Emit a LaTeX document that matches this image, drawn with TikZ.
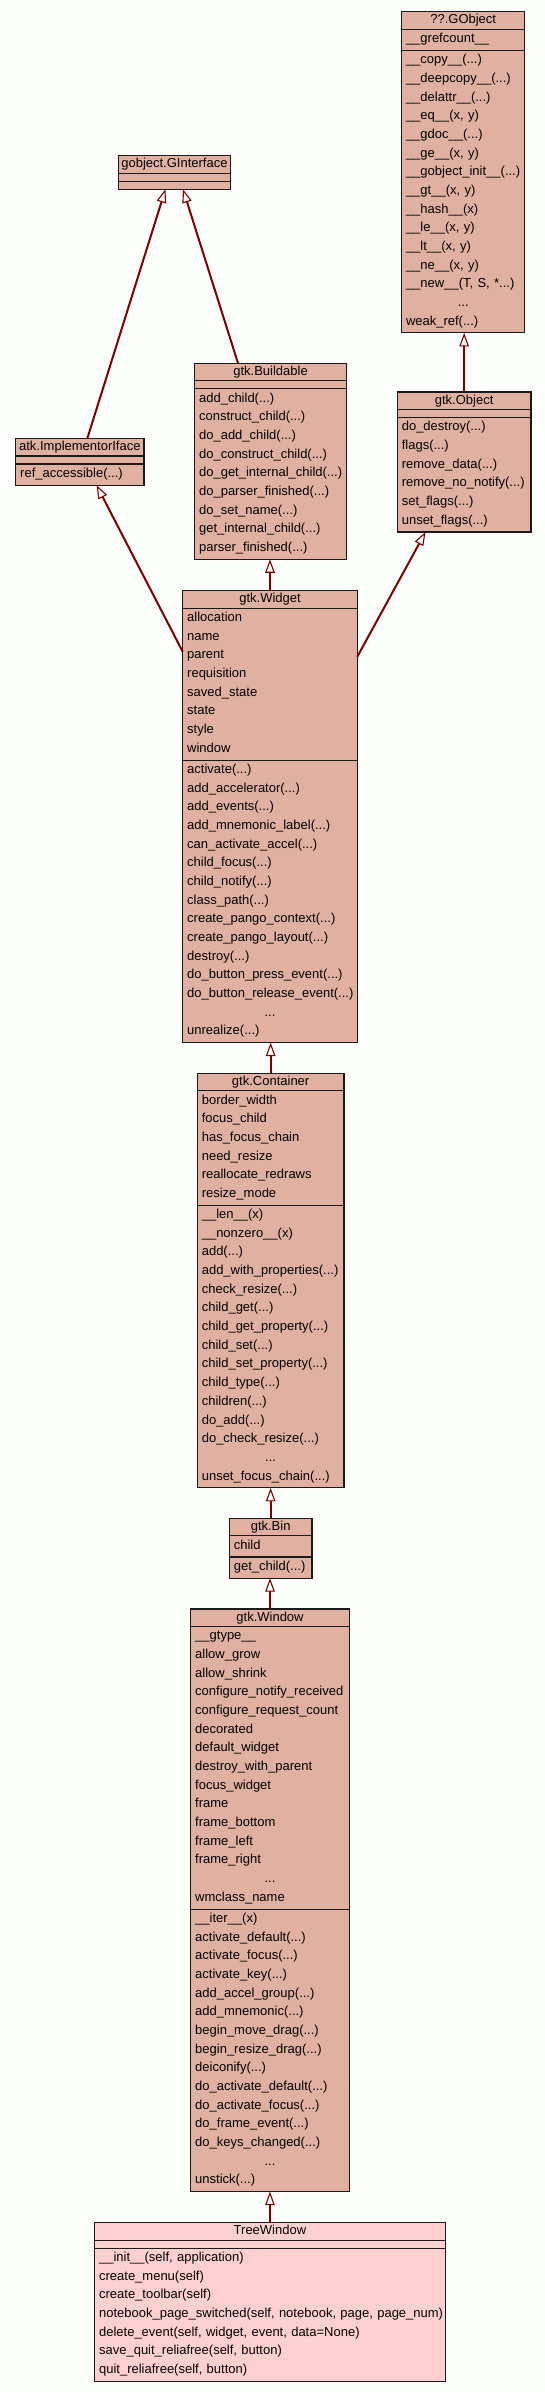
\documentclass[tikz,border=0pt]{standalone}
\usepackage{fontspec}
\setmainfont{Liberation Sans}
\usetikzlibrary{arrows.meta,calc}
\definecolor{basefill}{HTML}{E0B0A0}
\definecolor{selfill}{HTML}{FFD0D0}
\definecolor{inhcolor}{HTML}{800000}
\definecolor{bgcol}{HTML}{FCFEFC}
\definecolor{boxline}{HTML}{1A1A1A}
\newcommand{\memfont}{\fontsize{13}{18.67}\selectfont}
\newcommand{\fs}{\rule{0pt}{10pt}}
\newcommand{\dotline}{\makebox[\curw pt][c]{...}}
\tikzset{
  members/.style={anchor=north west, inner sep=0pt, outer sep=0pt, text width=400pt, align=left, font=\memfont},
  classtitle/.style={anchor=base, inner sep=0pt, font=\memfont},
  sepline/.style={draw=boxline, line width=1.1pt},
  inh/.style={draw=inhcolor, line width=2pt, -{Triangle[length=13.5pt, width=9.5pt, fill=white, line width=1.1pt]}},
}
% #1 id, #2 left, #3 right, #4 top, #5 n attrs, #6 n methods, #7 fill, #8 title
\newcommand{\classframe}[8]{%
  \pgfmathsetmacro\cfA{#4+17.5}%
  \pgfmathsetmacro\cfM{(#5==0) ? (\cfA+8) : (\cfA+#5*18.67+2.5)}%
  \pgfmathsetmacro\cfB{(#6==0) ? (\cfM+8) : (\cfM+#6*18.67+2.5)}%
  \pgfmathsetmacro\cfW{#3-#2}%
  \pgfmathsetmacro\cfH{\cfB-#4}%
  \pgfmathsetmacro\curw{#3-#2-9}%
  \node[draw=boxline, line width=1.1pt, fill=#7, anchor=north west, inner sep=0pt, outer sep=0pt,
        minimum width=\cfW pt, minimum height=\cfH pt] (#1) at (#2,#4) {};
  \draw[sepline] (#2,\cfA) -- (#3,\cfA) (#2,\cfM) -- (#3,\cfM);
  \node[classtitle] (#1-title) at ({(#2+#3)/2},#4+12) {#8};
  \coordinate (#1-a) at (#2+4.5,\cfA+3.3);
  \coordinate (#1-m) at (#2+4.5,\cfM+3.3);
}
\begin{document}
\begin{tikzpicture}[x=1pt,y=-1pt]
\path[use as bounding box, fill=bgcol] (0,0) rectangle (545,2392);

% ??.GObject
\classframe{gobject}{401.5}{524.9}{11.7}{1}{15}{basefill}{??.GObject}
\node[members] (gobject-attrs) at (gobject-a) {\fs\_\_grefcount\_\_};
\node[members] (gobject-meths) at (gobject-m) {\fs\_\_copy\_\_(...)\\ \_\_deepcopy\_\_(...)\\ \_\_delattr\_\_(...)\\ \_\_eq\_\_(x, y)\\ \_\_gdoc\_\_(...)\\ \_\_ge\_\_(x, y)\\ \_\_gobject\_init\_\_(...)\\ \_\_gt\_\_(x, y)\\ \_\_hash\_\_(x)\\ \_\_le\_\_(x, y)\\ \_\_lt\_\_(x, y)\\ \_\_ne\_\_(x, y)\\ \_\_new\_\_(T, S, *...)\\ \dotline\\ weak\_ref(...)};

% gobject.GInterface
\classframe{ginterface}{118.5}{230.4}{155.7}{0}{0}{basefill}{gobject.GInterface}

% gtk.Buildable
\classframe{buildable}{194.6}{346.5}{363.3}{0}{9}{basefill}{gtk.Buildable}
\node[members] (buildable-meths) at (buildable-m) {\fs add\_child(...)\\ construct\_child(...)\\ do\_add\_child(...)\\ do\_construct\_child(...)\\ do\_get\_internal\_child(...)\\ do\_parser\_finished(...)\\ do\_set\_name(...)\\ get\_internal\_child(...)\\ parser\_finished(...)};

% atk.ImplementorIface
\classframe{impl}{15.7}{144}{438.5}{0}{1}{basefill}{atk.ImplementorIface}
\node[members] (impl-meths) at (impl-m) {\fs ref\_accessible(...)};

% gtk.Object
\classframe{object}{397.3}{531}{392}{0}{6}{basefill}{gtk.Object}
\node[members] (object-meths) at (object-m) {\fs do\_destroy(...)\\ flags(...)\\ remove\_data(...)\\ remove\_no\_notify(...)\\ set\_flags(...)\\ unset\_flags(...)};

% gtk.Widget
\classframe{widget}{182.7}{357.3}{590.7}{8}{15}{basefill}{gtk.Widget}
\node[members] (widget-attrs) at (widget-a) {\fs allocation\\ name\\ parent\\ requisition\\ saved\_state\\ state\\ style\\ window};
\node[members] (widget-meths) at (widget-m) {\fs activate(...)\\ add\_accelerator(...)\\ add\_events(...)\\ add\_mnemonic\_label(...)\\ can\_activate\_accel(...)\\ child\_focus(...)\\ child\_notify(...)\\ class\_path(...)\\ create\_pango\_context(...)\\ create\_pango\_layout(...)\\ destroy(...)\\ do\_button\_press\_event(...)\\ do\_button\_release\_event(...)\\ \dotline\\ unrealize(...)};

% gtk.Container
\classframe{container}{197.3}{344}{1073.3}{6}{15}{basefill}{gtk.Container}
\node[members] (container-attrs) at (container-a) {\fs border\_width\\ focus\_child\\ has\_focus\_chain\\ need\_resize\\ reallocate\_redraws\\ resize\_mode};
\node[members] (container-meths) at (container-m) {\fs \_\_len\_\_(x)\\ \_\_nonzero\_\_(x)\\ add(...)\\ add\_with\_properties(...)\\ check\_resize(...)\\ child\_get(...)\\ child\_get\_property(...)\\ child\_set(...)\\ child\_set\_property(...)\\ child\_type(...)\\ children(...)\\ do\_add(...)\\ do\_check\_resize(...)\\ \dotline\\ unset\_focus\_chain(...)};

% gtk.Bin
\classframe{bin}{229.3}{312}{1518.3}{1}{1}{basefill}{gtk.Bin}
\node[members] (bin-attrs) at (bin-a) {\fs child};
\node[members] (bin-meths) at (bin-m) {\fs get\_child(...)};

% gtk.Window
\classframe{window}{190.7}{349.3}{1609}{15}{15}{basefill}{gtk.Window}
\node[members] (window-attrs) at (window-a) {\fs \_\_gtype\_\_\\ allow\_grow\\ allow\_shrink\\ configure\_notify\_received\\ configure\_request\_count\\ decorated\\ default\_widget\\ destroy\_with\_parent\\ focus\_widget\\ frame\\ frame\_bottom\\ frame\_left\\ frame\_right\\ \dotline\\ wmclass\_name};
\node[members] (window-meths) at (window-m) {\fs \_\_iter\_\_(x)\\ activate\_default(...)\\ activate\_focus(...)\\ activate\_key(...)\\ add\_accel\_group(...)\\ add\_mnemonic(...)\\ begin\_move\_drag(...)\\ begin\_resize\_drag(...)\\ deiconify(...)\\ do\_activate\_default(...)\\ do\_activate\_focus(...)\\ do\_frame\_event(...)\\ do\_keys\_changed(...)\\ \dotline\\ unstick(...)};

% TreeWindow
\classframe{tree}{94.6}{445.3}{2222.7}{0}{7}{selfill}{TreeWindow}
\node[members] (tree-meths) at (tree-m) {\fs \_\_init\_\_(self, application)\\ create\_menu(self)\\ create\_toolbar(self)\\ notebook\_page\_switched(self, notebook, page, page\_num)\\ delete\_event(self, widget, event, data=None)\\ save\_quit\_reliafree(self, button)\\ quit\_reliafree(self, button)};

% inheritance connectors
\draw[inh] ($(impl.north west)!0.558!(impl.north east)$) -- ($(ginterface.south west)!0.42!(ginterface.south east)$);
\draw[inh] ($(buildable.north west)!0.286!(buildable.north east)$) -- ($(ginterface.south west)!0.576!(ginterface.south east)$);
\draw[inh] (object.north) -- (object.north |- gobject.south);
\draw[inh] (widget.north) -- (widget.north |- buildable.south);
\draw[inh] ($(widget.north west)+(0,61)$) -- ($(impl.south west)!0.63!(impl.south east)$);
\draw[inh] ($(widget.north east)+(0,66)$) -- ($(object.south west)!0.211!(object.south east)$);
\draw[inh] (container.north) -- (container.north |- widget.south);
\draw[inh] (bin.north) -- (bin.north |- container.south);
\draw[inh] (window.north) -- (window.north |- bin.south);
\draw[inh] (tree.north) -- (tree.north |- window.south);
\end{tikzpicture}
\end{document}
